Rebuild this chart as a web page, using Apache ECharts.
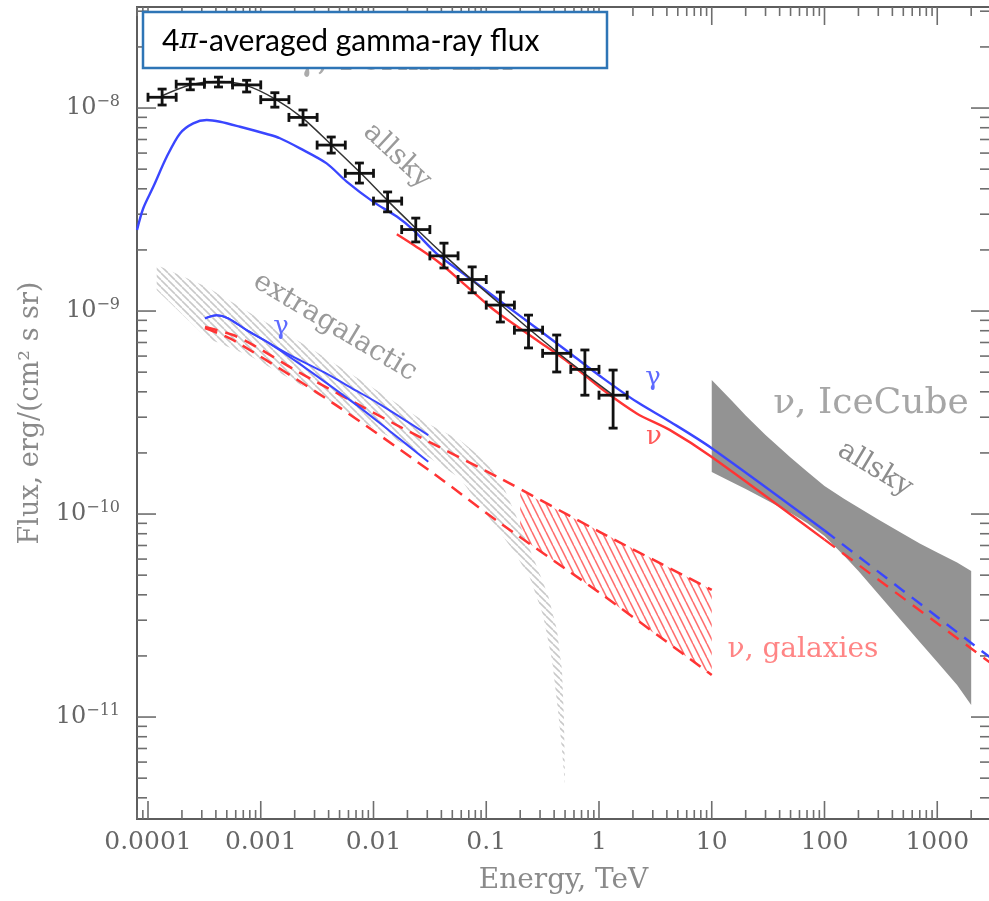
<!DOCTYPE html>
<html>
<head>
<meta charset="utf-8">
<script src="https://cdn.jsdelivr.net/npm/echarts@6.0.0/dist/echarts.min.js"></script>
<style>
html,body{margin:0;padding:0;background:#fff;}
#chart{width:989px;height:901px;}
</style>
</head>
<body>
<div id="chart"></div>
<script>
// ---------- axes ----------
const xRange = [7.988e-5, 2937];
const yRange = [3.146e-12, 3.146e-8];
const xTickValues = [1e-4, 1e-3, 1e-2, 1e-1, 1, 10, 100, 1000];
const xTickLabels = ['0.0001', '0.001', '0.01', '0.1', '1', '10', '100', '1000'];
const yTickValues = [1e-11, 1e-10, 1e-9, 1e-8];
const yTickExponents = ['\u221211', '\u221210', '\u22129', '\u22128'];

// ---------- Fermi-LAT allsky points ----------
const fermiE      = [1.334e-4, 2.371e-4, 4.217e-4, 7.499e-4, 1.334e-3, 2.371e-3, 4.217e-3, 7.499e-3, 1.334e-2, 2.371e-2, 4.217e-2, 7.499e-2, 0.1334, 0.2371, 0.4217, 0.7499, 1.334];
const fermiELo    = [1.000e-4, 1.778e-4, 3.162e-4, 5.623e-4, 1.000e-3, 1.778e-3, 3.162e-3, 5.623e-3, 1.000e-2, 1.778e-2, 3.162e-2, 5.623e-2, 0.1000, 0.1778, 0.3162, 0.5623, 1.000];
const fermiEHi    = [1.778e-4, 3.162e-4, 5.623e-4, 1.000e-3, 1.778e-3, 3.162e-3, 5.623e-3, 1.000e-2, 1.778e-2, 3.162e-2, 5.623e-2, 0.1000, 0.1778, 0.3162, 0.5623, 1.000, 1.778];
const fermiFlux   = [1.13e-8, 1.31e-8, 1.34e-8, 1.30e-8, 1.10e-8, 8.99e-9, 6.57e-9, 4.77e-9, 3.48e-9, 2.52e-9, 1.87e-9, 1.43e-9, 1.07e-9, 8.05e-10, 6.19e-10, 5.16e-10, 3.85e-10];
const fermiFluxHi = [1.24e-8, 1.39e-8, 1.42e-8, 1.37e-8, 1.19e-8, 9.78e-9, 7.20e-9, 5.36e-9, 3.86e-9, 2.87e-9, 2.16e-9, 1.65e-9, 1.24e-9, 9.55e-10, 7.62e-10, 6.43e-10, 5.12e-10];
const fermiFluxLo = [1.035e-8, 1.23e-8, 1.27e-8, 1.20e-8, 1.01e-8, 8.25e-9, 6.00e-9, 4.27e-9, 3.08e-9, 2.19e-9, 1.63e-9, 1.23e-9, 8.83e-10, 6.58e-10, 5.01e-10, 3.85e-10, 2.65e-10];
// fit through the Fermi points
const fitFlux     = [1.15e-8, 1.30e-8, 1.35e-8, 1.29e-8, 1.11e-8, 8.9e-9, 6.6e-9, 4.85e-9, 3.5e-9, 2.56e-9, 1.89e-9, 1.42e-9, 1.08e-9, 8.2e-10, 6.3e-10, 4.9e-10, 3.85e-10];

// ---------- allsky gamma (blue) ----------
const gammaAllE = [7.99e-5, 9.08e-5, 1.114e-4, 1.466e-4, 1.923e-4, 2.52e-4, 3.32e-4, 4.36e-4, 6.55e-4, 1.13e-3, 1.48e-3, 2.23e-3, 3.84e-3, 5.78e-3, 9.96e-3, 1.61e-2, 2.25e-2, 3.63e-2, 6.26e-2, 0.108, 0.1416, 0.280, 0.553, 1.09, 2.16, 4.27, 10, 100];
const gammaAllF = [2.51e-9, 3.21e-9, 4.09e-9, 5.75e-9, 7.50e-9, 8.41e-9, 8.73e-9, 8.56e-9, 8.09e-9, 7.45e-9, 7.10e-9, 6.33e-9, 5.34e-9, 4.34e-9, 3.45e-9, 2.92e-9, 2.51e-9, 1.92e-9, 1.53e-9, 1.22e-9, 1.09e-9, 8.22e-10, 6.19e-10, 4.66e-10, 3.57e-10, 2.85e-10, 2.11e-10, 8.3e-11];
const gammaAllDashE = [100, 3000];
const gammaAllDashF = [8.3e-11, 1.95e-11];

// ---------- allsky neutrino (red) ----------
const nuAllE = [1.61e-2, 2.41e-2, 3.89e-2, 6.26e-2, 0.108, 0.1416, 0.280, 0.553, 1.09, 2.16, 4.27, 10, 100];
const nuAllF = [2.39e-9, 2.07e-9, 1.72e-9, 1.37e-9, 1.05e-9, 9.37e-10, 7.20e-10, 5.52e-10, 4.08e-10, 3.13e-10, 2.59e-10, 1.91e-10, 7.48e-11];
const nuAllDashE = [100, 3000];
const nuAllDashF = [7.48e-11, 1.84e-11];

// ---------- extragalactic gamma (blue, two lines) ----------
const egGammaUpE = [3.20e-4, 4.06e-4, 5.15e-4, 7.50e-4, 1.13e-3, 1.82e-3, 3.59e-3, 7.10e-3, 1.096e-2, 3.06e-2];
const egGammaUpF = [9.20e-10, 9.53e-10, 9.20e-10, 8.05e-10, 7.06e-10, 6.07e-10, 5.01e-10, 4.04e-10, 3.52e-10, 2.45e-10];
const egGammaLoE = [3.20e-4, 4.06e-4, 5.15e-4, 7.50e-4, 1.13e-3, 2.23e-3, 7.10e-3, 1.40e-2, 3.06e-2];
const egGammaLoF = [9.20e-10, 9.53e-10, 9.20e-10, 8.05e-10, 7.06e-10, 5.48e-10, 3.44e-10, 2.56e-10, 1.81e-10];

// ---------- extragalactic / galaxies neutrino (red dashed) ----------
const egNuUpE = [3.20e-4, 5.68e-4, 8.89e-4, 2.23e-3, 1.72e-2, 0.1324, 1.02, 10];
const egNuUpF = [8.34e-10, 7.62e-10, 6.72e-10, 4.96e-10, 2.69e-10, 1.50e-10, 8.15e-11, 4.23e-11];
const egNuLoE = [3.20e-4, 5.68e-4, 4.37e-3, 3.37e-2, 0.1324, 1.02, 10];
const egNuLoF = [8.24e-10, 7.20e-10, 3.52e-10, 1.59e-10, 9.04e-11, 4.08e-11, 1.61e-11];

// ---------- nu, galaxies hatched band ----------
const galE      = [0.2, 0.5, 1, 3, 10];
const galUpper  = [1.305e-10, 1.00e-10, 8.25e-11, 6.00e-11, 4.23e-11];
const galLower  = [7.70e-11, 5.39e-11, 4.11e-11, 2.62e-11, 1.61e-11];

// ---------- extragalactic gamma hatched band (gray) ----------
const egBandUpE = [1.195e-4, 3.32e-4, 8.03e-4, 2.56e-3, 1.0e-2, 2.96e-2, 5.85e-2, 0.1016, 0.1466, 0.1992, 0.2706, 0.3530, 0.4241, 0.4696, 0.4893, 0.4994];
const egBandUpF = [1.684e-9, 1.313e-9, 9.77e-10, 6.72e-10, 4.17e-10, 2.81e-10, 2.31e-10, 1.80e-10, 1.31e-10, 8.83e-11, 5.80e-11, 3.99e-11, 2.68e-11, 1.70e-11, 9.66e-12, 4.62e-12];
const egBandLoE = [1.195e-4, 3.32e-4, 8.03e-4, 2.56e-3, 1.0e-2, 3.17e-2, 5.85e-2, 0.1016, 0.1727, 0.2443, 0.3187, 0.3829, 0.4329, 0.4696, 0.4994];
const egBandLoF = [1.269e-9, 7.36e-10, 6.00e-10, 4.17e-10, 2.65e-10, 1.89e-10, 1.50e-10, 9.89e-11, 6.65e-11, 4.84e-11, 3.18e-11, 1.91e-11, 1.08e-11, 6.88e-12, 4.62e-12];

// ---------- IceCube allsky band ----------
const iceE     = [10, 15, 20, 30, 50, 70, 100, 150, 200, 300, 500, 700, 1000, 1500, 2000];
const iceUpper = [4.571e-10, 3.623e-10, 3.055e-10, 2.449e-10, 1.898e-10, 1.620e-10, 1.374e-10, 1.186e-10, 1.076e-10, 9.396e-11, 7.97e-11, 7.155e-11, 6.46e-11, 5.77e-11, 5.24e-11];
const iceLower = [1.61e-10, 1.438e-10, 1.328e-10, 1.179e-10, 1.011e-10, 9.03e-11, 7.79e-11, 6.21e-11, 5.24e-11, 4.035e-11, 2.904e-11, 2.342e-11, 1.866e-11, 1.437e-11, 1.146e-11];

// ================= build =================
const BLUE = '#3a46ff', RED = '#ff3434';
const SERIF = '"DejaVu Serif", serif';

const zip = (a, b) => a.map((v, i) => [v, b[i]]);

function makeHatch(color, w, h, lw) {
  const c = document.createElement('canvas');
  c.width = w; c.height = h;
  const g = c.getContext('2d');
  g.strokeStyle = color; g.lineWidth = lw;
  for (const dx of [-w, 0, w]) {
    g.beginPath(); g.moveTo(dx, 0); g.lineTo(dx + w, h); g.stroke();
  }
  return { image: c, repeat: 'repeat' };
}

function bandSeries(name, upE, upF, loE, loF, fill, z) {
  const data = zip(upE, upF);
  for (let i = loE.length - 1; i >= 0; i--) data.push([loE[i], loF[i]]);
  return {
    type: 'custom', name, z, silent: true, clip: true, data,
    renderItem(params, api) {
      if (params.dataIndexInside !== 0) return null;
      const pts = [];
      for (let i = 0; i < params.dataInsideLength; i++) {
        pts.push(api.coord([api.value(0, i), api.value(1, i)]));
      }
      return { type: 'polygon', shape: { points: pts }, style: { fill: fill, stroke: null } };
    }
  };
}

function lineSeries(name, E, F, color, width, type, z, smooth) {
  return {
    type: 'line', name, data: zip(E, F), showSymbol: false, symbol: 'none', z,
    smooth: smooth === undefined ? 0.3 : smooth, clip: true, silent: true,
    lineStyle: { color, width, type: type || 'solid' }
  };
}

const xMinorTicks = [];
for (let k = -5; k <= 3; k++) for (let m = 2; m <= 9; m++) {
  const v = m * Math.pow(10, k);
  if (v > xRange[0] && v < xRange[1]) xMinorTicks.push(v);
}
const yMinorTicks = [];
for (let k = -13; k <= -8; k++) for (let m = 2; m <= 9; m++) {
  const v = m * Math.pow(10, k);
  if (v > yRange[0] && v < yRange[1]) yMinorTicks.push(v);
}

const tickSeries = {
  type: 'custom', z: 4, silent: true, clip: false, data: [[1, 1e-10]],
  renderItem(params, api) {
    const cs = params.coordSys;
    const L = cs.x, R = cs.x + cs.width, T = cs.y, B = cs.y + cs.height;
    const st = { stroke: '#6e6e6e', lineWidth: 1.6 };
    const kids = [];
    const ln = (x1, y1, x2, y2) => kids.push({ type: 'line', shape: { x1, y1, x2, y2 }, style: st });
    xMinorTicks.forEach(v => { const p = api.coord([v, 1e-10])[0]; ln(p, B, p, B - 9); ln(p, T, p, T + 9); });
    xTickValues.forEach(v => { const p = api.coord([v, 1e-10])[0]; ln(p, B, p, B - 18); ln(p, T, p, T + 18); });
    yMinorTicks.forEach(v => { const p = api.coord([1, v])[1]; ln(L, p, L + 10, p); ln(R, p, R - 10, p); });
    yTickValues.forEach(v => { const p = api.coord([1, v])[1]; ln(L, p, L + 19, p); ln(R, p, R - 19, p); });
    return { type: 'group', children: kids };
  }
};

const fermiData = fermiE.map((e, i) => [e, fermiFlux[i], fermiELo[i], fermiEHi[i], fermiFluxLo[i], fermiFluxHi[i]]);
const fermiSeries = {
  type: 'custom', name: 'Fermi LAT', z: 12, silent: true, data: fermiData,
  encode: { x: 0, y: 1 },
  renderItem(params, api) {
    const c = api.coord([api.value(0), api.value(1)]);
    const l = api.coord([api.value(2), api.value(1)]);
    const r = api.coord([api.value(3), api.value(1)]);
    const lo = api.coord([api.value(0), api.value(4)]);
    const hi = api.coord([api.value(0), api.value(5)]);
    const st = { stroke: '#111', lineWidth: 2.8 };
    const cap = 4.5;
    const L = (x1, y1, x2, y2) => ({ type: 'line', shape: { x1, y1, x2, y2 }, style: st });
    return {
      type: 'group', children: [
        L(l[0], c[1], r[0], c[1]),
        L(c[0], lo[1], c[0], hi[1]),
        L(l[0], c[1] - cap, l[0], c[1] + cap),
        L(r[0], c[1] - cap, r[0], c[1] + cap),
        L(c[0] - cap, lo[1], c[0] + cap, lo[1]),
        L(c[0] - cap, hi[1], c[0] + cap, hi[1])
      ]
    };
  }
};

function nearIdx(v, arr) {
  const lv = Math.log10(v);
  for (let i = 0; i < arr.length; i++) if (Math.abs(lv - Math.log10(arr[i])) < 0.01) return i;
  return -1;
}

const grayHatch = makeHatch('#c9c9c9', 7, 7, 1.6);
const redHatch = makeHatch('#ff6e6e', 7, 14, 1.6);

const option = {
  backgroundColor: '#fff',
  animation: false,
  grid: { left: 137, top: 7, width: 853, height: 812, show: true, borderColor: '#5e5e5e', borderWidth: 2, backgroundColor: 'transparent', outerBoundsMode: 'none', containLabel: false },
  xAxis: {
    type: 'log', logBase: 10, min: xRange[0], max: xRange[1],
    axisLine: { show: false }, axisTick: { show: false }, splitLine: { show: false }, minorTick: { show: false },
    axisLabel: {
      showMinLabel: false, showMaxLabel: false, margin: 11,
      color: '#666', fontFamily: SERIF, fontSize: 25,
      formatter: v => { const i = nearIdx(v, xTickValues); return i < 0 ? '' : xTickLabels[i]; }
    },
    name: 'Energy, TeV', nameLocation: 'middle', nameGap: 48,
    nameTextStyle: { color: '#8a8a8a', fontFamily: SERIF, fontSize: 28 }
  },
  yAxis: {
    type: 'log', logBase: 10, min: yRange[0], max: yRange[1],
    axisLine: { show: false }, axisTick: { show: false }, splitLine: { show: false }, minorTick: { show: false },
    axisLabel: {
      showMinLabel: false, showMaxLabel: false, margin: 17,
      formatter: v => { const i = nearIdx(v, yTickValues); return i < 0 ? '' : '{b|10}{s|' + yTickExponents[i] + '}'; },
      rich: {
        b: { fontFamily: SERIF, fontSize: 24, color: '#666', lineHeight: 28 },
        s: { fontFamily: SERIF, fontSize: 16, color: '#666', verticalAlign: 'top', lineHeight: 18 }
      }
    },
    name: 'Flux, erg/(cm\u00b2 s sr)', nameLocation: 'middle', nameGap: 92,
    nameTextStyle: { color: '#8a8a8a', fontFamily: SERIF, fontSize: 27 }
  },
  series: [
    bandSeries('extragalactic gamma band', egBandUpE, egBandUpF, egBandLoE, egBandLoF, grayHatch, 2),
    bandSeries('nu galaxies band', galE, galUpper, galE, galLower, redHatch, 3),
    bandSeries('IceCube allsky', iceE, iceUpper, iceE, iceLower, '#939393', 3),
    tickSeries,
    lineSeries('nu extragalactic upper', egNuUpE, egNuUpF, RED, 2.5, [13, 8], 6),
    lineSeries('nu extragalactic lower', egNuLoE, egNuLoF, RED, 2.5, [13, 8], 6),
    lineSeries('gamma extragalactic upper', egGammaUpE, egGammaUpF, BLUE, 2, 'solid', 7),
    lineSeries('gamma extragalactic lower', egGammaLoE, egGammaLoF, BLUE, 2, 'solid', 7),
    lineSeries('nu allsky', nuAllE, nuAllF, RED, 2.4, 'solid', 8),
    lineSeries('nu allsky ext', nuAllDashE, nuAllDashF, RED, 2.4, [13, 9], 8, false),
    lineSeries('gamma allsky', gammaAllE, gammaAllF, BLUE, 2.4, 'solid', 9),
    lineSeries('gamma allsky ext', gammaAllDashE, gammaAllDashF, BLUE, 2.4, [13, 9], 9, false),
    lineSeries('Fermi fit', fermiE, fitFlux, '#333', 1.5, 'solid', 10),
    fermiSeries
  ],
  graphic: [
    { type: 'text', z: 20, x: 397, y: 156, rotation: -43 * Math.PI / 180,
      style: { text: 'allsky', font: '28px ' + SERIF, fill: '#9a9a9a', align: 'center', verticalAlign: 'middle' } },
    { type: 'text', z: 20, x: 335, y: 327, rotation: -31 * Math.PI / 180,
      style: { text: 'extragalactic', font: '28px ' + SERIF, fill: '#9a9a9a', align: 'center', verticalAlign: 'middle' } },
    { type: 'text', z: 20, x: 281, y: 327,
      style: { text: '\u03b3', font: '26px ' + SERIF, fill: '#5e6aff', align: 'center', verticalAlign: 'middle' } },
    { type: 'text', z: 20, x: 653, y: 378,
      style: { text: '\u03b3', font: '26px ' + SERIF, fill: '#5e6aff', align: 'center', verticalAlign: 'middle' } },
    { type: 'text', z: 20, x: 654, y: 437,
      style: { text: '\u03bd', font: '26px ' + SERIF, fill: '#ff5a5a', align: 'center', verticalAlign: 'middle' } },
    { type: 'text', z: 20, x: 871, y: 404,
      style: { text: '\u03bd, IceCube', font: '36px ' + SERIF, fill: '#a6a6a6', align: 'center', verticalAlign: 'middle' } },
    { type: 'text', z: 20, x: 875, y: 469, rotation: -31 * Math.PI / 180,
      style: { text: 'allsky', font: '28px ' + SERIF, fill: '#8c8c8c', align: 'center', verticalAlign: 'middle' } },
    { type: 'text', z: 20, x: 803, y: 650,
      style: { text: '\u03bd, galaxies', font: '28px ' + SERIF, fill: '#ff8585', align: 'center', verticalAlign: 'middle' } },
    { type: 'text', z: 90, x: 297, y: 78,
      style: { text: '\u03b3, Fermi LAT', font: '34px ' + SERIF, fill: '#ababab', align: 'left', verticalAlign: 'bottom' } },
    { type: 'rect', z: 100, shape: { x: 143, y: 12, width: 464, height: 56 },
      style: { fill: '#fff', stroke: '#2e75b6', lineWidth: 2.5 } },
    { type: 'text', z: 101, x: 162, y: 41,
      style: { text: '4{i|\u03c0}-averaged gamma-ray flux', font: '30px Lato, "Liberation Sans", sans-serif', fill: '#000', verticalAlign: 'middle',
        rich: { i: { fontFamily: SERIF, fontStyle: 'italic', fontSize: 28, fill: '#000' } } } }
  ]
};

const chart = echarts.init(document.getElementById('chart'), null, { renderer: 'canvas', width: 989, height: 901 });
chart.setOption(option);
</script>
</body>
</html>
